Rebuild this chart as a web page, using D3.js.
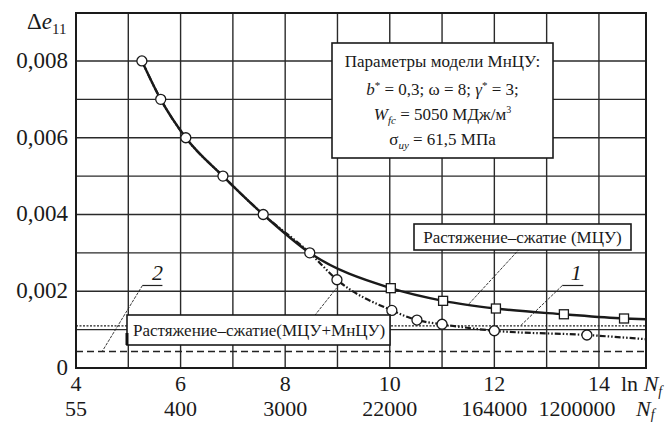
<!DOCTYPE html>
<html>
<head>
<meta charset="utf-8">
<script src="https://cdn.jsdelivr.net/npm/d3@7"></script>
</head>
<body style="margin:0">
<svg width="672" height="425"></svg>
<script>

// axis ticks
var lnTicks = [4, 6, 8, 10, 12, 14]
var nTicks = ["55", "400", "3000", "22000", "164000", "1200000"]
var yTicks = [0, 0.002, 0.004, 0.006, 0.008]
var yLabels = ["0", "0,002", "0,004", "0,006", "0,008"]

// tension-compression (МЦУ), squares
var mcuLn = [5.26, 5.62, 6.1, 6.81, 7.58, 8.47, 10.02, 11.02, 12.03, 13.33, 14.48, 14.9]
var mcuDe = [0.008, 0.007, 0.006, 0.005, 0.004, 0.003, 0.00208, 0.00175, 0.00155, 0.0014, 0.00129, 0.00127]
var mcuMarked = [0, 0, 0, 0, 0, 0, 1, 1, 1, 1, 1, 0]

// tension-compression (МЦУ+МнЦУ), circles
var bothLn = [5.26, 5.62, 6.1, 6.81, 7.58, 8.47, 8.99, 10.04, 10.52, 11.0, 12.0, 13.77, 14.9]
var bothDe = [0.008, 0.007, 0.006, 0.005, 0.004, 0.003, 0.0023, 0.0015, 0.00125, 0.00114, 0.00097, 0.00086, 0.00075]
var bothMarked = [1, 1, 1, 1, 1, 1, 1, 1, 1, 1, 1, 1, 0]

// limit levels 1 and 2
var limitNames = ["1", "2"]
var limitValues = [0.0011, 0.00043]

var svg = d3.select("svg")
var serif = "Tinos, 'Nimbus Roman', 'Times New Roman', 'Liberation Serif', FreeSerif, serif"

var x = d3.scaleLinear().domain([4, 14.9]).range([76, 646])
var y = d3.scaleLinear().domain([0, 0.00925]).range([368, 13])

// text helper, same font everywhere
function label(parent, px, py, size, anchor) {
  return parent.append("text")
    .attr("x", px).attr("y", py)
    .style("font-family", serif)
    .style("font-size", size + "px")
    .attr("text-anchor", anchor || "start")
    .attr("fill", "#1a1a1a")
}

// grid

svg.selectAll(".vgrid").data(d3.range(5, 15)).enter().append("line")
  .attr("x1", function(d){ return x(d); })
  .attr("x2", function(d){ return x(d); })
  .attr("y1", y.range()[0])
  .attr("y2", y.range()[1])
  .style("stroke", "#2a2a2a")
  .style("stroke-width", 1.4)

svg.selectAll(".hgrid").data(d3.range(1, 9).map(function(d){ return d * 0.001; })).enter().append("line")
  .attr("x1", x.range()[0])
  .attr("x2", x.range()[1])
  .attr("y1", function(d){ return y(d); })
  .attr("y2", function(d){ return y(d); })
  .style("stroke", "#2a2a2a")
  .style("stroke-width", 1.4)

// limit lines

var limits = limitNames.map(function(n, i){ return {name: n, v: limitValues[i]}; })

svg.selectAll(".limit").data(limits).enter().append("line")
  .attr("x1", x.range()[0])
  .attr("x2", x.range()[1])
  .attr("y1", function(d){ return y(d.v); })
  .attr("y2", function(d){ return y(d.v); })
  .style("stroke", "#222")
  .style("stroke-width", function(d){ return d.name == "1" ? 1.3 : 1.5; })
  .style("stroke-dasharray", function(d){ return d.name == "1" ? "2,1.5" : "7,4"; })

// curves

var mcu = mcuLn.map(function(v, i){ return {ln: v, de: mcuDe[i], m: mcuMarked[i]}; })
var both = bothLn.map(function(v, i){ return {ln: v, de: bothDe[i], m: bothMarked[i]}; })

var line = d3.line()
  .x(function(d){ return x(d.ln); })
  .y(function(d){ return y(d.de); })
  .curve(d3.curveMonotoneX)

svg.append("path").datum(mcu)
  .attr("d", line)
  .style("fill", "none")
  .style("stroke", "#1a1a1a")
  .style("stroke-width", 2.4)

svg.append("path").datum(both)
  .attr("d", line)
  .style("fill", "none")
  .style("stroke", "#1a1a1a")
  .style("stroke-width", 2.2)
  .style("stroke-dasharray", "6,2,1.5,2,1.5,2")

// annotation leaders and labels

function leader(p0, p1) {
  svg.append("line")
    .attr("x1", p0[0]).attr("y1", p0[1])
    .attr("x2", p1[0]).attr("y2", p1[1])
    .style("stroke", "#222")
    .style("stroke-width", 0.9)
    .style("stroke-dasharray", "3,1.2")
}

// "2" -> dashed limit
var l2 = [x(5.27), y(0.00215)]
leader(l2, [x(4.5), y(limitValues[1])])
svg.append("line").attr("x1", l2[0]).attr("x2", l2[0] + 20).attr("y1", l2[1]).attr("y2", l2[1])
  .style("stroke", "#222").style("stroke-width", 1.2)
label(svg, l2[0] + 15, l2[1] - 5, 22, "middle").style("font-style", "italic").text(limitNames[1])

// "1" -> dotted limit
var l1 = [x(13.3), y(0.00215)]
leader(l1, [x(12.5), y(limitValues[0])])
svg.append("line").attr("x1", l1[0]).attr("x2", l1[0] + 21).attr("y1", l1[1]).attr("y2", l1[1])
  .style("stroke", "#222").style("stroke-width", 1.2)
label(svg, l1[0] + 14, l1[1] - 5, 22, "middle").style("font-style", "italic").text(limitNames[0])

// МЦУ box leader
leader([x(12.48), y(0.0031)], [x(11.48), y(0.00162)])
// МЦУ+МнЦУ box leader
leader([x(8.56), y(0.00136)], [x(8.98), y(0.00208)])

// markers

svg.selectAll(".sq").data(mcu.filter(function(d){ return d.m; })).enter().append("rect")
  .attr("x", function(d){ return x(d.ln) - 4.5; })
  .attr("y", function(d){ return y(d.de) - 4.5; })
  .attr("width", 9)
  .attr("height", 9)
  .style("fill", "#fff")
  .style("stroke", "#1a1a1a")
  .style("stroke-width", 1.3)

svg.selectAll(".ci").data(both.filter(function(d){ return d.m; })).enter().append("circle")
  .attr("cx", function(d){ return x(d.ln); })
  .attr("cy", function(d){ return y(d.de); })
  .attr("r", 5)
  .style("fill", "#fff")
  .style("stroke", "#1a1a1a")
  .style("stroke-width", 1.3)

// boxes

function box(x0, y0, w, h) {
  svg.append("rect")
    .attr("x", x0).attr("y", y0).attr("width", w).attr("height", h)
    .style("fill", "#fff")
    .style("stroke", "#1a1a1a")
    .style("stroke-width", 1.6)
}

box(414, 224, 217, 26)
label(svg, 522.5, 243, 17, "middle").text("Растяжение–сжатие (МЦУ)")

box(127, 315, 263, 30)
svg.append("line").attr("x1", 127).attr("x2", 127).attr("y1", 333).attr("y2", 345)
  .style("stroke", "#111").style("stroke-width", 3)
label(svg, 133, 336, 17).text("Растяжение–сжатие(МЦУ+МнЦУ)")

box(332, 43, 221, 115)
var cx = 442.5
label(svg, cx, 67, 17, "middle").text("Параметры модели МнЦУ:")

var t2 = label(svg, cx, 95, 17, "middle")
t2.append("tspan").style("font-style", "italic").text("b")
t2.append("tspan").attr("dy", -6).style("font-size", "11px").text("*")
t2.append("tspan").attr("dy", 6).text(" = 0,3; ω = 8; ")
t2.append("tspan").style("font-style", "italic").text("γ")
t2.append("tspan").attr("dy", -6).style("font-size", "11px").text("*")
t2.append("tspan").attr("dy", 6).text(" = 3;")

var t3 = label(svg, cx, 120, 17, "middle")
t3.append("tspan").style("font-style", "italic").text("W")
t3.append("tspan").attr("dy", 4).style("font-size", "11px").style("font-style", "italic").text("fc")
t3.append("tspan").attr("dy", -4).text(" = 5050 МДж/м")
t3.append("tspan").attr("dy", -7).style("font-size", "10px").text("3")

var t4 = label(svg, cx, 145, 17, "middle")
t4.append("tspan").text("σ")
t4.append("tspan").attr("dy", 4).style("font-size", "11px").style("font-style", "italic").text("uy")
t4.append("tspan").attr("dy", -4).text(" = 61,5 МПа")

// frame

svg.append("rect")
  .attr("x", x.range()[0]).attr("y", y.range()[1])
  .attr("width", x.range()[1] - x.range()[0])
  .attr("height", y.range()[0] - y.range()[1])
  .style("fill", "none")
  .style("stroke", "#1a1a1a")
  .style("stroke-width", 2)

// axis labels

yTicks.forEach(function(d, i){
  label(svg, 68, y(d) + 7, 23, "end").text(yLabels[i])
})

lnTicks.forEach(function(d, i){
  label(svg, x(d), 391, 22, "middle").text(d)
  label(svg, x(d) + (i == lnTicks.length - 1 ? -22 : 0), 416, 22, "middle").text(nTicks[i])
})

var yl = label(svg, 27, 29, 23)
yl.append("tspan").text("Δ")
yl.append("tspan").style("font-style", "italic").text("e")
yl.append("tspan").attr("dy", 5).style("font-size", "15px").text("11")

var xl = label(svg, 621, 391, 22)
xl.append("tspan").text("ln")
xl.append("tspan").style("font-style", "italic").text(" N")
xl.append("tspan").attr("dy", 5).style("font-size", "14px").style("font-style", "italic").text("f")

var xl2 = label(svg, 636, 416, 22)
xl2.append("tspan").style("font-style", "italic").text("N")
xl2.append("tspan").attr("dy", 3).style("font-size", "14px").style("font-style", "italic").text("f")

</script>
</body>
</html>
